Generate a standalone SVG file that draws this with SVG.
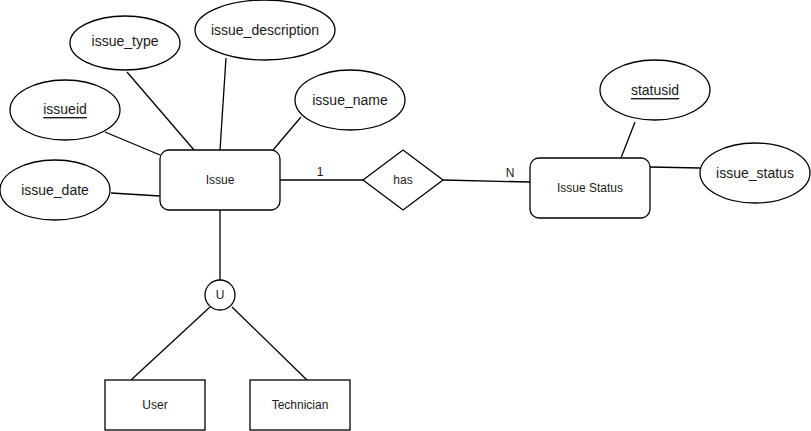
<svg xmlns="http://www.w3.org/2000/svg" width="811" height="431" viewBox="0 0 811 431">
  <style>
    .shape { fill: #ffffff; stroke: #000000; stroke-width: 1.3; }
    .edge { fill: none; stroke: #000000; stroke-width: 1.3; }
    .attr { font-family: "Liberation Sans", Arial, Helvetica, sans-serif; font-size: 14px; fill: #1a1a1a; text-anchor: middle; dominant-baseline: central; }
    .small { font-family: "Liberation Sans", Arial, Helvetica, sans-serif; font-size: 12px; fill: #1a1a1a; text-anchor: middle; dominant-baseline: central; }
    .key { text-decoration: underline; }
  </style>
  <rect width="811" height="431" fill="#ffffff"/>

  <!-- connectors -->
  <g id="connectors">
    <line class="edge" x1="127" y1="72" x2="194" y2="150"/>
    <line class="edge" x1="226" y1="58" x2="220" y2="150"/>
    <line class="edge" x1="105" y1="132" x2="160" y2="155"/>
    <line class="edge" x1="111" y1="193" x2="160" y2="196"/>
    <line class="edge" x1="301" y1="117" x2="273" y2="150"/>
    <line class="edge" x1="280" y1="180" x2="363" y2="180"/>
    <line class="edge" x1="443" y1="180" x2="530" y2="182"/>
    <line class="edge" x1="635" y1="122" x2="621" y2="158"/>
    <line class="edge" x1="650" y1="167" x2="700" y2="168"/>
    <line class="edge" x1="220" y1="210" x2="220" y2="280"/>
    <line class="edge" x1="210" y1="307" x2="131" y2="380"/>
    <line class="edge" x1="232" y1="307" x2="309" y2="382"/>
    <text class="small" x="320" y="172">1</text>
    <text class="small" x="510" y="173">N</text>
  </g>

  <!-- Issue entity and its attributes -->
  <g id="issue">
    <rect class="shape" x="160" y="150" width="120" height="60" rx="9"/>
    <text class="small" x="220" y="180">Issue</text>
  </g>
  <g id="issue_type">
    <ellipse class="shape" cx="125" cy="43" rx="55" ry="27"/>
    <text class="attr" x="125" y="41">issue_type</text>
  </g>
  <g id="issue_description">
    <ellipse class="shape" cx="265" cy="30" rx="70" ry="30"/>
    <text class="attr" x="265" y="30">issue_description</text>
  </g>
  <g id="issueid">
    <ellipse class="shape" cx="65" cy="110" rx="55" ry="30"/>
    <text class="attr key" x="65" y="109">issueid</text>
  </g>
  <g id="issue_name">
    <ellipse class="shape" cx="350" cy="100" rx="55" ry="30"/>
    <text class="attr" x="350" y="100">issue_name</text>
  </g>
  <g id="issue_date">
    <ellipse class="shape" cx="55" cy="190" rx="55" ry="30"/>
    <text class="attr" x="55" y="190">issue_date</text>
  </g>

  <!-- relationship -->
  <g id="has">
    <polygon class="shape" points="363,180 403,150 443,180 403,210"/>
    <text class="small" x="403" y="180">has</text>
  </g>

  <!-- Issue Status entity and its attributes -->
  <g id="issue_status_entity">
    <rect class="shape" x="530" y="158" width="120" height="60" rx="9"/>
    <text class="small" x="590" y="188">Issue Status</text>
  </g>
  <g id="statusid">
    <ellipse class="shape" cx="655" cy="90" rx="55" ry="30"/>
    <text class="attr key" x="655" y="90">statusid</text>
  </g>
  <g id="issue_status">
    <ellipse class="shape" cx="755" cy="173" rx="55" ry="30"/>
    <text class="attr" x="755" y="173">issue_status</text>
  </g>

  <!-- union and subtypes -->
  <g id="union">
    <circle class="shape" cx="220" cy="295" r="15"/>
    <text class="small" x="220" y="295">U</text>
  </g>
  <g id="user">
    <rect class="shape" x="105" y="380" width="100" height="50"/>
    <text class="small" x="155" y="405">User</text>
  </g>
  <g id="technician">
    <rect class="shape" x="250" y="380" width="100" height="50"/>
    <text class="small" x="300" y="405">Technician</text>
  </g>
</svg>
